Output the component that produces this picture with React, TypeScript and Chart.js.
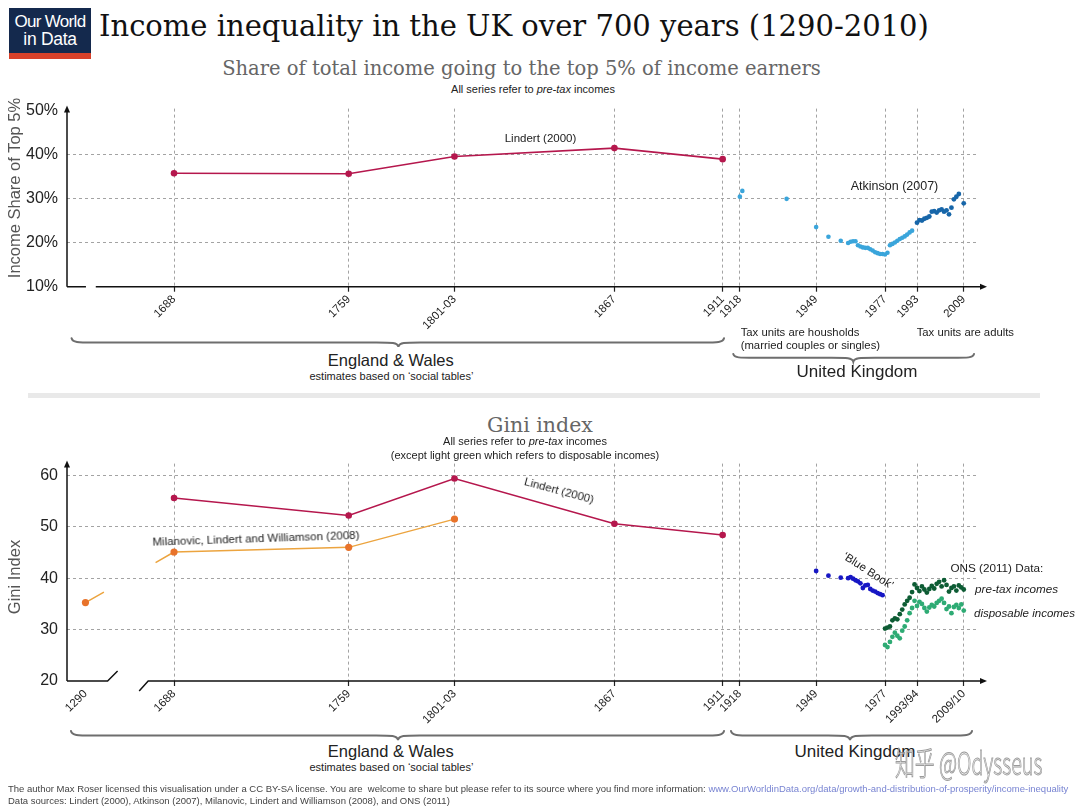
import React, { useEffect, useRef } from 'react';
import { Chart, registerables, LinearScale } from 'chart.js';

Chart.register(...registerables);

// ---------- data ----------
const TOP_TICK_YEARS = [1688, 1759, 1802, 1867, 1911, 1918, 1949, 1977, 1990, 2009];
const TOP_TICK_LABELS = ['1688', '1759', '1801-03', '1867', '1911', '1918', '1949', '1977', '1993', '2009'];
const TOP_Y_TICKS = [10, 20, 30, 40, 50];
const TOP_Y_GRID = [20, 30, 40];

const GINI_TICK_YEARS = [1290, 1688, 1759, 1802, 1867, 1911, 1918, 1949, 1977, 1990, 2009];
const GINI_TICK_LABELS = ['1290', '1688', '1759', '1801-03', '1867', '1911', '1918', '1949', '1977', '1993/94', '2009/10'];
const GINI_Y_TICKS = [20, 30, 40, 50, 60];
const GINI_Y_GRID = [30, 40, 50, 60];
const GINI_HIDDEN_TICKS = [1290];

const LINDERT_YEARS = [1688, 1759, 1802, 1867, 1911];
const LINDERT_TOP5 = [35.7, 35.6, 39.5, 41.4, 38.9];
const LINDERT_GINI = [55.6, 52.2, 59.4, 50.6, 48.4];

const MLW_YEARS = [1290, 1688, 1759, 1802];
const MLW_GINI = [35.25, 45.1, 46.0, 51.5];

const ATK_HH_YEARS = [1918, 1919, 1937, 1949, 1954, 1959, 1962, 1963, 1964, 1965, 1966, 1967, 1968, 1969, 1970, 1971, 1972, 1973, 1974, 1975, 1976, 1977, 1978, 1979, 1980, 1981, 1982, 1983, 1984, 1985, 1986, 1987, 1988];
const ATK_HH_TOP5 = [30.4, 31.7, 29.9, 23.5, 21.3, 20.4, 19.9, 20.2, 20.3, 20.3, 19.4, 19.1, 18.9, 18.8, 18.8, 18.5, 18.2, 17.8, 17.6, 17.4, 17.4, 17.3, 17.7, 19.4, 19.7, 20.0, 20.4, 20.8, 21.1, 21.4, 21.8, 22.3, 22.7];
const ATK_AD_YEARS = [1990, 1991, 1992, 1993, 1994, 1995, 1996, 1997, 1998, 1999, 2000, 2001, 2002, 2003, 2004, 2005, 2006, 2007, 2009];
const ATK_AD_TOP5 = [24.5, 25.1, 25.0, 25.4, 25.6, 25.9, 27.0, 27.1, 26.8, 27.3, 27.5, 27.0, 27.3, 26.4, 27.9, 29.8, 30.4, 31.0, 28.9];

const BLUE_BOOK_YEARS = [1949, 1954, 1959, 1962, 1963, 1964, 1965, 1966, 1967, 1968, 1969, 1970, 1971, 1972, 1973, 1974, 1975, 1976];
const BLUE_BOOK_GINI = [41.4, 40.5, 40.1, 40.0, 40.2, 39.9, 39.6, 39.4, 39.0, 38.1, 38.6, 38.7, 37.9, 37.6, 37.4, 37.1, 36.9, 36.7];

const ONS_YEARS = [1977, 1978, 1979, 1980, 1981, 1982, 1983, 1984, 1985, 1986, 1987, 1988, 1989, 1990, 1991, 1992, 1993, 1994, 1995, 1996, 1997, 1998, 1999, 2000, 2001, 2002, 2003, 2004, 2005, 2006, 2007, 2008, 2009];
const ONS_PRETAX = [30.2, 30.4, 30.6, 31.8, 32.2, 32.0, 33.0, 33.9, 34.9, 35.6, 36.2, 37.3, 38.8, 38.1, 37.5, 38.4, 37.8, 37.2, 37.9, 38.5, 38.0, 38.9, 39.3, 38.4, 39.6, 38.7, 37.4, 38.1, 38.4, 37.6, 38.6, 38.2, 37.8];
const ONS_DISPOSABLE = [27.0, 26.6, 27.6, 28.6, 29.4, 28.8, 28.3, 29.8, 30.6, 31.8, 33.2, 34.2, 35.6, 34.6, 35.4, 35.0, 34.2, 33.5, 34.3, 34.8, 34.5, 35.2, 35.6, 36.0, 35.2, 34.0, 34.5, 33.2, 34.4, 34.8, 34.2, 34.9, 33.7];

// ---------- layout / style ----------
const SANS = "'Liberation Sans', Arial, Helvetica, sans-serif";
const SERIF = "'DejaVu Serif', Georgia, serif";
const PLOT_LEFT = 67;
const PLOT_RIGHT = 979;
const X_MIN = 1644.5;
const X_MAX = 2015.2;
const BREAK_YEAR = 1600;
const OLD_ERA_SHIFT = 362;
const TOP_AXIS_GAP = [1652.2, 1656.2];
const GINI_AXIS_BREAK = [1661, 1677.5];
const GINI_LINE_GAP = [1659.5, 1680.5];

const TOP_CANVAS = { top: 90, height: 250, plotTop: 102.7, plotBottom: 286.7 };
const GINI_CANVAS = { top: 445, height: 290, plotTop: 461, plotBottom: 681 };

const CRIMSON = '#b5174d';
const MLW_LINE = '#eca43f';
const MLW_POINT = '#e8732b';
const ATK_LIGHT = '#3aa5db';
const ATK_DARK = '#1766a9';
const BLUE_BOOK = '#1717c4';
const ONS_DARK = '#0d5c34';
const ONS_LIGHT = '#2eab74';
const GRID = '#a3a3a3';

class BrokenYearScale extends LinearScale {
  static id = 'brokenYear';
  getPixelForValue(value: number) {
    const v = value < BREAK_YEAR ? value + OLD_ERA_SHIFT : value;
    return super.getPixelForValue(v);
  }
}
Chart.register(BrokenYearScale as any);

const pts = (xs: number[], ys: number[]) => xs.map((x, i) => ({ x, y: ys[i] }));

function arrowPlugin(kind: 'top' | 'gini') {
  return {
    id: 'axisArrows',
    afterDraw(chart: any) {
      const { ctx, chartArea } = chart;
      const { left, right, top, bottom } = chartArea;
      const xs = chart.scales.x;
      ctx.save();
      ctx.strokeStyle = '#111';
      ctx.fillStyle = '#111';
      ctx.lineWidth = 1.5;
      ctx.setLineDash([]);
      ctx.beginPath();
      ctx.moveTo(left, bottom);
      ctx.lineTo(left, top);
      ctx.stroke();
      ctx.beginPath();
      ctx.moveTo(left, top - 3);
      ctx.lineTo(left - 3, top + 4);
      ctx.lineTo(left + 3, top + 4);
      ctx.closePath();
      ctx.fill();
      const tip = right + 8;
      ctx.beginPath();
      if (kind === 'top') {
        ctx.moveTo(left, bottom);
        ctx.lineTo(xs.getPixelForValue(TOP_AXIS_GAP[0]), bottom);
        ctx.moveTo(xs.getPixelForValue(TOP_AXIS_GAP[1]), bottom);
        ctx.lineTo(tip - 3, bottom);
      } else {
        const a = xs.getPixelForValue(GINI_AXIS_BREAK[0]);
        const b = xs.getPixelForValue(GINI_AXIS_BREAK[1]);
        ctx.moveTo(left, bottom);
        ctx.lineTo(a, bottom);
        ctx.lineTo(a + 10, bottom - 10);
        ctx.moveTo(b - 9, bottom + 10);
        ctx.lineTo(b, bottom);
        ctx.lineTo(tip - 3, bottom);
      }
      ctx.stroke();
      ctx.beginPath();
      ctx.moveTo(tip, bottom);
      ctx.lineTo(tip - 7, bottom - 3);
      ctx.lineTo(tip - 7, bottom + 3);
      ctx.closePath();
      ctx.fill();
      ctx.restore();
    },
  };
}

function baseOptions(p: {
  xType: string;
  xTicks: number[];
  xLabels: string[];
  hiddenX: number[];
  yMin: number;
  yMax: number;
  yTicks: number[];
  yGrid: number[];
  yFmt: (v: number) => string;
  canvas: { top: number; height: number; plotTop: number; plotBottom: number };
}) {
  const xAxisH = p.canvas.height - (p.canvas.plotBottom - p.canvas.top);
  return {
    responsive: false,
    maintainAspectRatio: false,
    animation: false,
    events: [],
    layout: { padding: { top: p.canvas.plotTop - p.canvas.top, right: 1080 - PLOT_RIGHT, left: 0, bottom: 0 } },
    plugins: { legend: { display: false }, tooltip: { enabled: false } },
    elements: { line: { tension: 0 } },
    scales: {
      x: {
        type: p.xType,
        min: X_MIN,
        max: X_MAX,
        afterBuildTicks: (s: any) => {
          s.ticks = p.xTicks.map((v) => ({ value: v }));
        },
        afterFit: (s: any) => {
          s.height = xAxisH;
        },
        ticks: {
          autoSkip: false,
          minRotation: 45,
          maxRotation: 45,
          padding: 1,
          color: '#222',
          font: { size: 11.5, family: SANS },
          callback: (_v: any, i: number) => p.xLabels[i],
        },
        grid: {
          color: (c: any) => (c.tick && p.hiddenX.includes(c.tick.value) ? 'transparent' : GRID),
          tickColor: (c: any) => (c.tick && p.hiddenX.includes(c.tick.value) ? 'transparent' : '#222'),
          lineWidth: 1,
          tickWidth: 1.2,
          tickLength: 5,
        },
        border: { display: false, dash: [3, 3] },
      },
      y: {
        type: 'linear',
        min: p.yMin,
        max: p.yMax,
        afterBuildTicks: (s: any) => {
          s.ticks = p.yTicks.map((v) => ({ value: v }));
        },
        afterFit: (s: any) => {
          s.width = PLOT_LEFT;
        },
        ticks: {
          padding: 9,
          color: '#222',
          font: { size: 16, family: SANS },
          callback: (v: any) => p.yFmt(Number(v)),
        },
        grid: {
          color: (c: any) => (c.tick && p.yGrid.includes(c.tick.value) ? GRID : 'transparent'),
          drawTicks: false,
          lineWidth: 1,
        },
        border: { display: false, dash: [3, 3] },
      },
    },
  };
}

function topConfig(): any {
  return {
    type: 'line',
    data: {
      datasets: [
        {
          label: 'Lindert (2000)',
          data: pts(LINDERT_YEARS, LINDERT_TOP5),
          borderColor: CRIMSON,
          backgroundColor: CRIMSON,
          borderWidth: 1.6,
          pointRadius: 3.3,
          pointBorderWidth: 0,
        },
        {
          label: 'Atkinson (2007) households',
          data: pts(ATK_HH_YEARS, ATK_HH_TOP5),
          showLine: false,
          backgroundColor: ATK_LIGHT,
          borderColor: ATK_LIGHT,
          pointRadius: 2.3,
          pointBorderWidth: 0,
        },
        {
          label: 'Atkinson (2007) adults',
          data: pts(ATK_AD_YEARS, ATK_AD_TOP5),
          showLine: false,
          backgroundColor: ATK_DARK,
          borderColor: ATK_DARK,
          pointRadius: 2.4,
          pointBorderWidth: 0,
        },
      ],
    },
    options: baseOptions({
      xType: 'linear',
      xTicks: TOP_TICK_YEARS,
      xLabels: TOP_TICK_LABELS,
      hiddenX: [],
      yMin: 10,
      yMax: 50.35,
      yTicks: TOP_Y_TICKS,
      yGrid: TOP_Y_GRID,
      yFmt: (v) => `${v}%`,
      canvas: TOP_CANVAS,
    }),
    plugins: [arrowPlugin('top')],
  };
}

function giniConfig(holder: { chart: any }): any {
  return {
    type: 'line',
    data: {
      datasets: [
        {
          label: 'Lindert (2000)',
          data: pts(LINDERT_YEARS, LINDERT_GINI),
          borderColor: CRIMSON,
          backgroundColor: CRIMSON,
          borderWidth: 1.6,
          pointRadius: 3.3,
          pointBorderWidth: 0,
        },
        {
          label: 'Milanovic, Lindert and Williamson (2008)',
          data: pts(MLW_YEARS, MLW_GINI),
          borderColor: MLW_LINE,
          backgroundColor: MLW_POINT,
          borderWidth: 1.5,
          pointRadius: 3.6,
          pointBorderWidth: 0,
          segment: {
            borderDash: (c: any) => {
              if (c.p0DataIndex !== 0) return undefined;
              const ch = c.chart || holder.chart;
              if (!ch) return undefined;
              const xs = ch.scales.x;
              const a = xs.getPixelForValue(GINI_LINE_GAP[0]);
              const b = xs.getPixelForValue(GINI_LINE_GAP[1]);
              const dx = c.p1.x - c.p0.x;
              const dy = c.p1.y - c.p0.y;
              const f = Math.hypot(dx, dy) / dx;
              return [(a - c.p0.x) * f, (b - a) * f, 3000];
            },
          },
        },
        {
          label: 'Blue Book',
          data: pts(BLUE_BOOK_YEARS, BLUE_BOOK_GINI),
          showLine: false,
          backgroundColor: BLUE_BOOK,
          borderColor: BLUE_BOOK,
          pointRadius: 2.4,
          pointBorderWidth: 0,
        },
        {
          label: 'ONS disposable',
          data: pts(ONS_YEARS, ONS_DISPOSABLE),
          showLine: false,
          backgroundColor: ONS_LIGHT,
          borderColor: ONS_LIGHT,
          pointRadius: 2.4,
          pointBorderWidth: 0,
        },
        {
          label: 'ONS pre-tax',
          data: pts(ONS_YEARS, ONS_PRETAX),
          showLine: false,
          backgroundColor: ONS_DARK,
          borderColor: ONS_DARK,
          pointRadius: 2.4,
          pointBorderWidth: 0,
        },
      ],
    },
    options: baseOptions({
      xType: 'brokenYear',
      xTicks: GINI_TICK_YEARS,
      xLabels: GINI_TICK_LABELS,
      hiddenX: GINI_HIDDEN_TICKS,
      yMin: 20,
      yMax: 62.3,
      yTicks: GINI_Y_TICKS,
      yGrid: GINI_Y_GRID,
      yFmt: (v) => `${v}`,
      canvas: GINI_CANVAS,
    }),
    plugins: [arrowPlugin('gini')],
  };
}

function ChartCanvas({ kind }: { kind: 'top' | 'gini' }) {
  const ref = useRef<HTMLCanvasElement>(null);
  const geo = kind === 'top' ? TOP_CANVAS : GINI_CANVAS;
  useEffect(() => {
    const holder: { chart: any } = { chart: null };
    const cfg = kind === 'top' ? topConfig() : giniConfig(holder);
    const chart = new Chart(ref.current as HTMLCanvasElement, cfg);
    holder.chart = chart;
    chart.update();
    return () => chart.destroy();
  }, [kind]);
  return (
    <canvas
      ref={ref}
      width={1080}
      height={geo.height}
      style={{ position: 'absolute', left: 0, top: geo.top, width: 1080, height: geo.height }}
    />
  );
}

type TxtProps = {
  x: number;
  y: number;
  size: number;
  children: React.ReactNode;
  align?: 'left' | 'center' | 'right';
  color?: string;
  family?: string;
  italic?: boolean;
  rotate?: number;
  weight?: number;
  style?: React.CSSProperties;
};

function Txt({ x, y, size, children, align = 'center', color = '#222', family = SANS, italic, rotate = 0, weight = 400, style }: TxtProps) {
  const tx = align === 'center' ? '-50%' : align === 'right' ? '-100%' : '0';
  return (
    <div
      style={{
        position: 'absolute',
        left: x,
        top: y,
        transform: `translate(${tx}, -50%) rotate(${rotate}deg)`,
        transformOrigin: align === 'left' ? '0 50%' : '50% 50%',
        whiteSpace: 'nowrap',
        fontSize: size,
        lineHeight: 1,
        fontFamily: family,
        color,
        fontStyle: italic ? 'italic' : 'normal',
        fontWeight: weight,
        ...style,
      }}
    >
      {children}
    </div>
  );
}

function bracePath(x1: number, x2: number, tip: number, y: number, h: number) {
  const m = y + h * 0.5;
  const e = y + h;
  return [
    `M${x1},${y}`,
    `C${x1 + 1},${m} ${x1 + 6},${m} ${x1 + 22},${m}`,
    `L${tip - 22},${m}`,
    `C${tip - 6},${m} ${tip - 1},${m} ${tip},${e}`,
    `C${tip + 1},${m} ${tip + 6},${m} ${tip + 22},${m}`,
    `L${x2 - 22},${m}`,
    `C${x2 - 6},${m} ${x2 - 1},${m} ${x2},${y}`,
  ].join(' ');
}

export default function App() {
  return (
    <div style={{ position: 'absolute', left: 0, top: 0, width: 1080, height: 810, background: '#fff', overflow: 'hidden', fontFamily: SANS }}>
      {/* logo */}
      <div style={{ position: 'absolute', left: 9, top: 8, width: 82, height: 51, background: '#14294d' }}>
        <div style={{ position: 'absolute', left: 0, bottom: 0, width: 82, height: 6, background: '#d8412a' }} />
        <div style={{ position: 'absolute', left: 0, top: 5, width: 82, textAlign: 'center', color: '#fff', fontSize: 17, lineHeight: 1, letterSpacing: -0.7 }}>Our World</div>
        <div style={{ position: 'absolute', left: 0, top: 23, width: 82, textAlign: 'center', color: '#fff', fontSize: 17.5, lineHeight: 1, letterSpacing: -0.3 }}>in Data</div>
      </div>

      <Txt x={99} y={26} size={29} align="left" family={SERIF} color="#111">
        Income inequality in the UK over 700 years (1290-2010)
      </Txt>
      <Txt x={521.5} y={69} size={19.5} family={SERIF} color="#666">
        Share of total income going to the top 5% of income earners
      </Txt>
      <Txt x={533} y={89} size={11} color="#222">
        All series refer to <i>pre-tax</i> incomes
      </Txt>

      <ChartCanvas kind="top" />
      <ChartCanvas kind="gini" />

      {/* axis titles */}
      <Txt x={14} y={188} size={16.5} rotate={-90} color="#555">Income Share of Top 5%</Txt>
      <Txt x={14} y={577} size={16.5} rotate={-90} color="#555">Gini Index</Txt>

      {/* top chart annotations */}
      <Txt x={540.5} y={139.3} size={11.5}>Lindert (2000)</Txt>
      <Txt x={894.5} y={185.7} size={12.5}>Atkinson (2007)</Txt>
      <Txt x={740.7} y={332.7} size={11.3} align="left">Tax units are housholds</Txt>
      <Txt x={740.7} y={346} size={11.3} align="left">(married couples or singles)</Txt>
      <Txt x={916.7} y={332.7} size={11.3} align="left">Tax units are adults</Txt>
      <Txt x={390.8} y={360} size={16.5}>England &amp; Wales</Txt>
      <Txt x={391.4} y={375.7} size={11}>estimates based on ‘social tables’</Txt>
      <Txt x={857} y={370.7} size={17}>United Kingdom</Txt>

      {/* separator */}
      <div style={{ position: 'absolute', left: 28, top: 393, width: 1012, height: 5, background: '#e9e9e9' }} />

      {/* gini header */}
      <Txt x={540} y={425} size={20.5} family={SERIF} color="#666">Gini index</Txt>
      <Txt x={525} y={441} size={11}>All series refer to <i>pre-tax</i> incomes</Txt>
      <Txt x={525} y={455} size={11}>(except light green which refers to disposable incomes)</Txt>

      {/* gini annotations */}
      <Txt x={255.9} y={539.3} size={11.5} rotate={-1.9}>Milanovic, Lindert and Williamson (2008)</Txt>
      <Txt x={559.3} y={490.8} size={11.5} rotate={15}>Lindert (2000)</Txt>
      <Txt x={868} y={571} size={11.5} rotate={33}>‘Blue Book’</Txt>
      <Txt x={950.5} y={568} size={11.7} align="left">ONS (2011) Data:</Txt>
      <Txt x={975} y={589} size={11.7} align="left" italic>pre-tax incomes</Txt>
      <Txt x={974} y={614} size={11.5} align="left" italic>disposable incomes</Txt>

      <Txt x={390.8} y={751} size={16.5}>England &amp; Wales</Txt>
      <Txt x={391.4} y={766.5} size={11}>estimates based on ‘social tables’</Txt>
      <Txt x={855} y={751} size={17}>United Kingdom</Txt>

      {/* braces */}
      <svg width={1080} height={810} style={{ position: 'absolute', left: 0, top: 0, pointerEvents: 'none' }}>
        <g fill="none" stroke="#6e6e6e" strokeWidth={2} strokeLinecap="round">
          <path d={bracePath(71.6, 724, 398.4, 338.3, 8.4)} />
          <path d={bracePath(733.3, 974, 853.3, 354, 7.7)} />
          <path d={bracePath(71, 724, 398, 731, 9)} />
          <path d={bracePath(731, 972, 850, 731, 9)} />
        </g>
      </svg>

      {/* watermark */}
      <div
        style={{
          position: 'absolute',
          left: 895,
          top: 744,
          fontSize: 32,
          lineHeight: 1.1,
          whiteSpace: 'nowrap',
          fontFamily: "'Noto Sans CJK SC', 'Liberation Sans', sans-serif",
          fontWeight: 300,
          color: 'rgba(255,255,255,0.55)',
          WebkitTextStroke: '1px rgba(130,130,130,0.8)',
          transform: 'scaleX(0.62)',
          transformOrigin: '0 0',
        }}
      >
        知乎 @Odysseus
      </div>

      {/* footer */}
      <div style={{ position: 'absolute', left: 8, top: 783, fontSize: 9.5, lineHeight: '11.5px', color: '#444', whiteSpace: 'nowrap', fontFamily: SANS }}>
        <div>
          The author Max Roser licensed this visualisation under a CC BY-SA license. You are&nbsp; welcome to share but please refer to its source where you find more information:{' '}
          <span style={{ color: '#7884d2' }}>www.OurWorldinData.org/data/growth-and-distribution-of-prosperity/income-inequality</span>
        </div>
        <div>Data sources: Lindert (2000), Atkinson (2007), Milanovic, Lindert and Williamson (2008), and ONS (2011)</div>
      </div>
    </div>
  );
}
